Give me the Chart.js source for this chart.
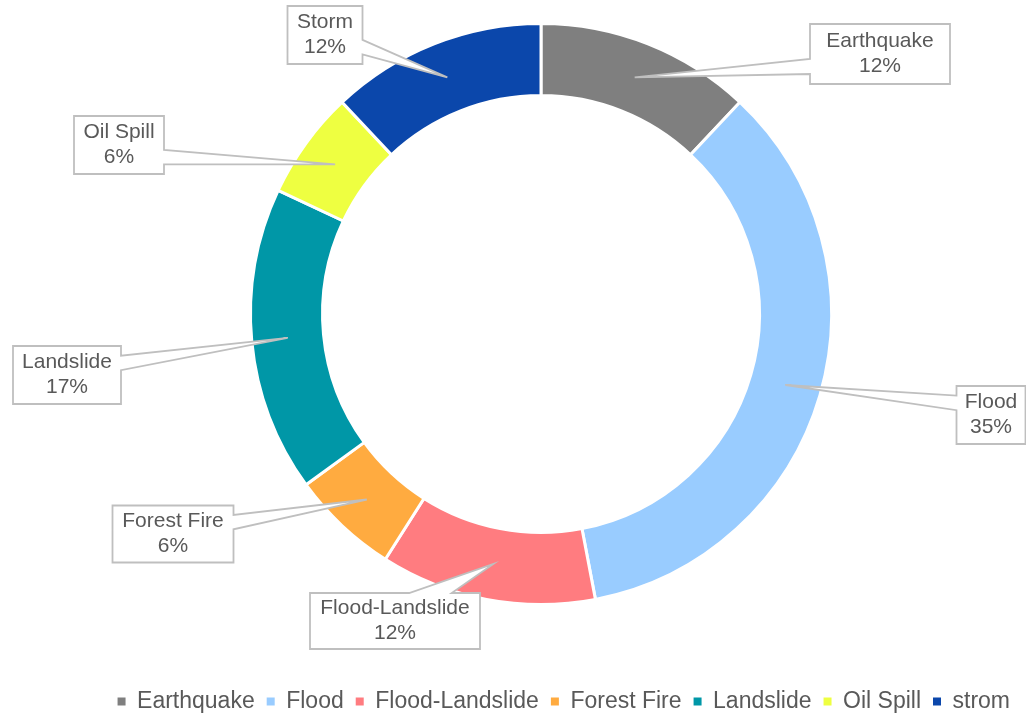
<!DOCTYPE html>
<html>
<head>
<meta charset="utf-8">
<script src="https://cdn.jsdelivr.net/npm/chart.js@4.4.1/dist/chart.umd.min.js"></script>
<style>
  html, body { margin: 0; padding: 0; background: #fff; }
  #wrap { width: 1026px; height: 714px; }
</style>
</head>
<body>
<div id="wrap"><canvas id="disasterChart" width="1026" height="714"></canvas></div>
<script>
// 재해 유형별 비율 도넛차트

const categories = ['Earthquake', 'Flood', 'Flood-Landslide', 'Forest Fire', 'Landslide', 'Oil Spill', 'strom'];
const calloutNames = ['Earthquake', 'Flood', 'Flood-Landslide', 'Forest Fire', 'Landslide', 'Oil Spill', 'Storm'];
const shares = [12, 35, 12, 6, 17, 6, 12];
const sliceColors = ['#7f7f7f', '#99ccff', '#ff7c80', '#ffab40', '#0097a7', '#eeff41', '#0b47ab'];

// 말풍선 박스: 도넛 중심에서의 오프셋, 크기
const calloutBoxes = [
    { dx: 339, dy: -260, w: 140, h: 60 },
    { dx: 450, dy: 101, w: 69, h: 58 },
    { dx: -146, dy: 307, w: 170, h: 56 },
    { dx: -368, dy: 220, w: 121, h: 57 },
    { dx: -474, dy: 61, w: 108, h: 58 },
    { dx: -422, dy: -169, w: 90, h: 58 },
    { dx: -216, dy: -279, w: 75, h: 58 }
];

const textColor = '#595959';
const fontFamily = '"Liberation Sans", Arial, sans-serif';

// 엑셀 wedgeRectCallout 모양 그리기
function calloutPath(ctx, l, t, w, h, tip) {
    const r = l + w, b = t + h;
    const dx = tip.x - (l + w / 2);
    const dy = tip.y - (t + h / 2);
    const vertical = Math.abs(dy) - Math.abs(dx * h / w) > 0;
    const x1 = l + w * (dx > 0 ? 7 : 2) / 12;
    const x2 = l + w * (dx > 0 ? 10 : 5) / 12;
    const y1 = t + h * (dy > 0 ? 7 : 2) / 12;
    const y2 = t + h * (dy > 0 ? 10 : 5) / 12;

    ctx.beginPath();
    ctx.moveTo(l, t);
    if (vertical && dy < 0) { ctx.lineTo(x1, t); ctx.lineTo(tip.x, tip.y); ctx.lineTo(x2, t); }
    ctx.lineTo(r, t);
    if (!vertical && dx > 0) { ctx.lineTo(r, y1); ctx.lineTo(tip.x, tip.y); ctx.lineTo(r, y2); }
    ctx.lineTo(r, b);
    if (vertical && dy > 0) { ctx.lineTo(x2, b); ctx.lineTo(tip.x, tip.y); ctx.lineTo(x1, b); }
    ctx.lineTo(l, b);
    if (!vertical && dx < 0) { ctx.lineTo(l, y2); ctx.lineTo(tip.x, tip.y); ctx.lineTo(l, y1); }
    ctx.closePath();
}

const calloutPlugin = {
    id: 'callouts',
    afterDatasetsDraw(chart) {
        const ctx = chart.ctx;
        const arcs = chart.getDatasetMeta(0).data;
        ctx.save();
        ctx.font = '21px ' + fontFamily;
        ctx.textAlign = 'center';
        ctx.textBaseline = 'middle';
        arcs.forEach((arc, i) => {
            const tip = arc.getCenterPoint();
            const box = calloutBoxes[i];
            const cx = arc.x + box.dx;
            const cy = arc.y + box.dy;
            calloutPath(ctx, cx - box.w / 2, cy - box.h / 2, box.w, box.h, tip);
            ctx.fillStyle = '#ffffff';
            ctx.fill();
            ctx.lineWidth = 1.8;
            ctx.strokeStyle = '#bfbfbf';
            ctx.lineJoin = 'miter';
            ctx.stroke();
            ctx.fillStyle = textColor;
            ctx.fillText(calloutNames[i], cx, cy - 12.5);
            ctx.fillText(shares[i] + '%', cx, cy + 12.5);
        });
        ctx.restore();
    }
};

const chartE = document.getElementById('disasterChart');
const disasterChart = new Chart(chartE, {
    type: 'doughnut',
    data: {
        labels: categories,
        datasets: [{
            data: shares,
            backgroundColor: sliceColors,
            borderColor: '#ffffff',
            borderWidth: 3
        }]
    },
    options: {
        responsive: false,
        animation: false,
        radius: 290.5,
        cutout: '75.2%',
        layout: {
            padding: { top: 0, bottom: -9, left: 60, right: 4 }
        },
        plugins: {
            legend: {
                display: true,
                position: 'bottom',
                align: 'end',
                title: {
                    display: true,
                    text: ' ',
                    font: { size: 8, lineHeight: 1 },
                    padding: { top: 42, bottom: 0 }
                },
                labels: {
                    boxWidth: 8,
                    boxHeight: 8,
                    padding: 12,
                    color: textColor,
                    font: { size: 23, family: fontFamily },
                    generateLabels(chart) {
                        const items = Chart.overrides.doughnut.plugins.legend.labels.generateLabels(chart);
                        return items.map(it => Object.assign(it, { lineWidth: 0 }));
                    }
                }
            },
            tooltip: { enabled: false }
        }
    },
    plugins: [calloutPlugin]
});
</script>
</body>
</html>
